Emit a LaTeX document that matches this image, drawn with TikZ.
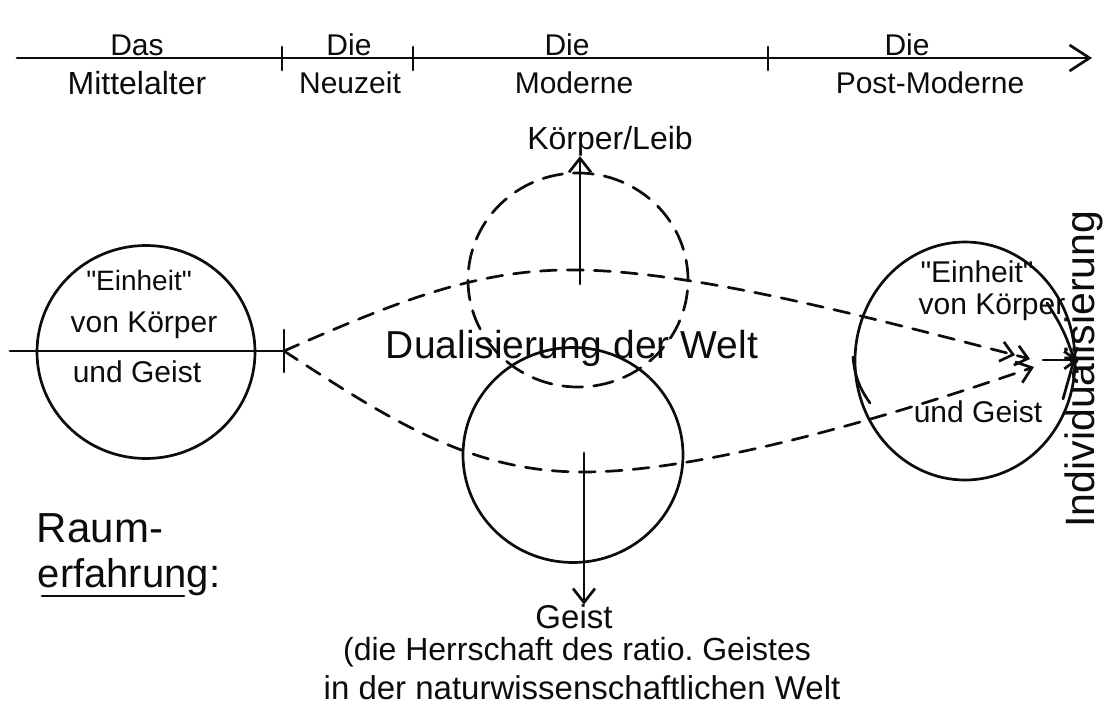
\documentclass[tikz,border=0pt]{standalone}
\usepackage{fontspec}
\setmainfont{Liberation Sans}
\usetikzlibrary{arrows.meta,positioning,calc,shapes.geometric}
\definecolor{ink}{RGB}{12,12,12}
\newcommand{\inkfont}[1]{\fontsize{#1}{#1}\selectfont}
\tikzset{pen/.style={draw=ink,line width=2.7pt,line cap=round},
  dashpen/.style={pen,dash pattern=on 16pt off 11pt},
  sphere/.style={pen,ellipse,inner sep=0pt},
  barb/.style={-{Straight Barb[length=14pt,width=22pt]}},
  smallbarb/.style={-{Straight Barb[length=9pt,width=14pt]}},
  handtext/.style={inner sep=0pt,text=ink,font=\inkfont{30}}}

\begin{document}
\begin{tikzpicture}[x=1pt,y=-1pt]
\useasboundingbox (0,0) rectangle (1110,711);
% Zeitachse
\coordinate (achseA) at (17,58);
\coordinate (achseB) at (1092,58);
\draw[pen,-{Straight Barb[length=20pt,width=26pt]}] (achseA) -- (achseB);
\foreach \x in {282,413,768}
  \draw[pen] (\x,47) -- (\x,70);
\node[handtext] (das) at (137,45) {Das};
\node[handtext,font=\inkfont{32}] (mittelalter) at (137,83) {Mittelalter};
\node[handtext] (dieN) at (349,45) {Die};
\node[handtext] (neuzeit) at (350,83) {Neuzeit};
\node[handtext] (dieM) at (567,45) {Die};
\node[handtext] (moderne) at (574,83) {Moderne};
\node[handtext] (dieP) at (907,45) {Die};
\node[handtext] (postmoderne) at (930,83) {Post-Moderne};

% Mittelalter
\node[sphere,minimum width=218pt,minimum height=213pt] (einheitL) at (146,352) {};
\node[handtext,font=\inkfont{28}] (einheitLa) at (139,280) {\textquotedbl Einheit\textquotedbl};
\node[handtext] (einheitLb) at (144,325) {von Körper};
\node[handtext] (einheitLc) at (137,372) {und Geist};
\coordinate (linksA) at (10,351);
\coordinate (spaltung) at (284,351);
\draw[pen] (linksA) -- (spaltung);
\draw[pen] (284,330) -- (284,372);

% Moderne
\node[sphere,dash pattern=on 20pt off 11pt,minimum width=220pt,minimum height=214pt] (koerperkreis) at (578,280) {};
\node[sphere,minimum width=220pt,minimum height=215pt] (geistkreis) at (573,455) {};
\node[handtext,font=\inkfont{32}] (koerper) at (610,141) {Körper/Leib};
\coordinate (koerperfuss) at (580,284);
\draw[pen,barb] (koerperfuss) -- (koerperfuss |- koerper.south);
\node[handtext,font=\inkfont{39}] (dualisierung) at (572,348) {Dualisierung der Welt};
\coordinate (geistfuss) at (584,453);
\node[handtext,font=\inkfont{33}] (geist) at (574,617) {Geist};
\draw[pen,barb] (geistfuss) -- (geistfuss |- geist.north);
\node[handtext,font=\inkfont{32}] (herrschaft) at (577,652) {(die Herrschaft des ratio.\ Geistes};
\node[handtext,font=\inkfont{33}] (naturwelt) at (582,688) {in der naturwissenschaftlichen Welt};

% Post-Moderne
\node[sphere,minimum width=220pt,minimum height=238pt] (einheitR) at (965,361) {};
\node[handtext] (einheitRa) at (977,272) {\textquotedbl Einheit\textquotedbl};
\node[handtext] (einheitRb) at (992,307) {von Körper};
\node[handtext] (einheitRc) at (978,412) {und Geist};
\draw[pen] (853,357) to[bend right=15] (870,403);
\coordinate (scheitelO) at (580,270);
\coordinate (scheitelU) at (583,472);
\coordinate (zielO) at (1030,359);
\coordinate (zielU) at (1034,367);
\coordinate (kernlinie) at (1043,360);
\coordinate (kern) at (1074,360);
\coordinate (zuflussO) at (1047,303);
\coordinate (zuflussU) at (1063,399);
\draw[dashpen,-{Straight Barb[length=12pt,width=20pt] Straight Barb[length=12pt,width=20pt]}]
  (spaltung) .. controls (400,300) and (480,268) .. (scheitelO)
  .. controls (700,272) and (880,320) .. (zielO);
\draw[dashpen,barb]
  (spaltung) .. controls (390,420) and (470,472) .. (scheitelU)
  .. controls (700,472) and (880,420) .. (zielU);
\draw[pen] (kernlinie) -- (kern);
\fill[ink] (kern) circle[radius=4.5pt];
\draw[pen,smallbarb] (zuflussO) to[bend left=8] (kern);
\draw[pen,smallbarb] (zuflussU) -- (kern);
\node[handtext,font=\inkfont{41},rotate=90] (individ) at (1084,369) {Individualisierung};

% Raumerfahrung
\node[handtext,font=\inkfont{42}] (raum) at (100,528) {Raum-};
\node[handtext,font=\inkfont{40}] (erfahrung) at (129,577) {erfahrung:};
\draw[pen] (42,596) -- (184,596);
\end{tikzpicture}
\end{document}
